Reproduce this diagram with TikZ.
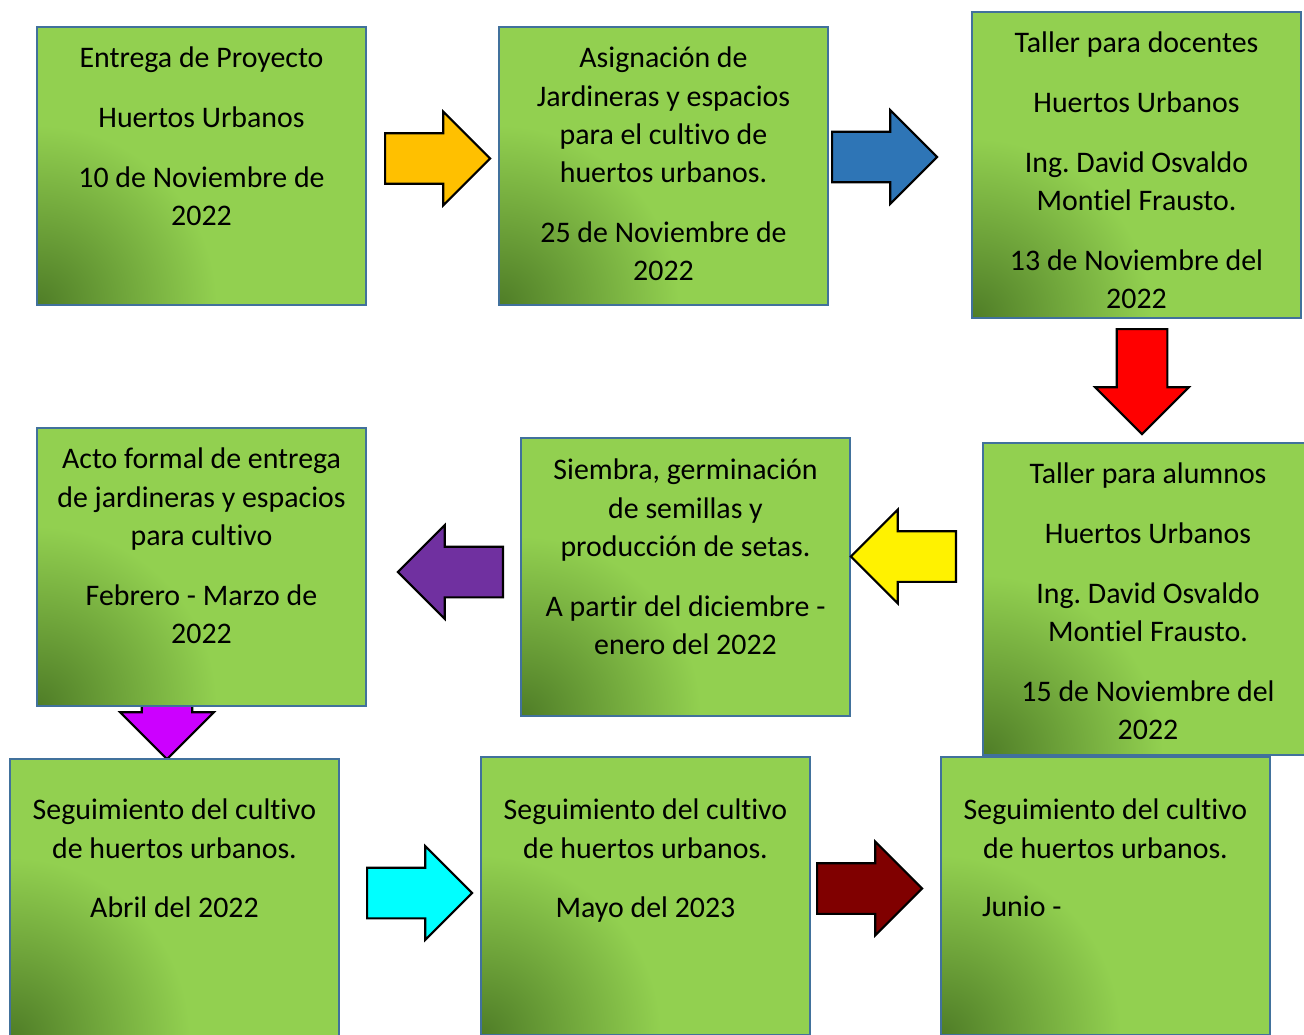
\documentclass[tikz,border=0pt]{standalone}
\usepackage{fontspec}
\setmainfont{Carlito}[Ligatures=NoCommon]
\usetikzlibrary{positioning,shapes.arrows}

\definecolor{leaf}{HTML}{92D050}
\definecolor{darkleaf}{HTML}{4F7D27}
\definecolor{boxblue}{HTML}{41719C}
\definecolor{amber}{HTML}{FFC000}
\definecolor{steel}{HTML}{2E75B6}
\definecolor{grape}{HTML}{7030A0}
\definecolor{orchid}{HTML}{CC00FF}
\definecolor{aqua}{HTML}{00FFFF}
\definecolor{maroon}{HTML}{800000}

\begin{document}
\begin{tikzpicture}[x=0.02cm,y=-0.02cm,
  stage/.style={fill=leaf,inner sep=0pt,minimum width=6.58cm,minimum height=5.56cm},
  stagetext/.style={align=center,inner sep=0pt,font=\fontsize{17}{21.8}\selectfont\frenchspacing},
  blockarrow/.style={single arrow,draw=black,line width=1.2pt,inner sep=0pt,anchor=tail,
    text height=0.97cm,text depth=0pt,minimum height=2.1cm,
    single arrow head extend=0.43cm,single arrow tip angle=90}]
\useasboundingbox (0,0) rectangle (1304,1034);

% la flecha morada queda bajo la tarjeta f
\node[blockarrow,fill=orchid,rotate=270] (f-g) at (167,653) {};

% tarjetas
\node[stage] (a) at (201.5,166) {};
\node[stage] (b) at (663.5,166) {};
\node[stage,minimum height=6.12cm] (c) at (1136.5,165) {};
\node[stage,minimum width=6.6cm,minimum height=6.24cm] (d) at (1148,599) {};
\node[stage] (e) at (685.5,577) {};
\node[stage] (f) at (201.5,567) {};
\node[stage] (g) at (174.5,898) {};
\node[stage] (h) at (645.5,896) {};
\node[stage] (i) at (1105.5,896) {};

% sombra verde oscura en la esquina y borde azul
\foreach \card in {a,b,c,d,e,f,g,h,i}{
  \begin{scope}
    \clip (\card.south west) rectangle (\card.north east);
    \shade[inner color=darkleaf,outer color=leaf] (\card.south west) circle[radius=3.6cm];
  \end{scope}
  \draw[boxblue,line width=1.2pt] (\card.south west) rectangle (\card.north east);
}

% textos
\node[stagetext,below=0.4cm of a.north] (a-text) {Entrega de Proyecto\\[0.43cm]
  Huertos Urbanos\\[0.43cm] 10 de Noviembre de\\ 2022};
\node[stagetext,below=0.4cm of b.north] (b-text) {Asignación de\\ Jardineras y espacios\\
  para el cultivo de\\ huertos urbanos.\\[0.43cm] 25 de Noviembre de\\ 2022};
\node[stagetext,below=0.4cm of c.north] (c-text) {Taller para docentes\\[0.43cm]
  Huertos Urbanos\\[0.43cm] Ing. David Osvaldo\\ Montiel Frausto.\\[0.43cm]
  13 de Noviembre del\\ 2022};
\node[stagetext,below=0.4cm of d.north] (d-text) {Taller para alumnos\\[0.43cm]
  Huertos Urbanos\\[0.43cm] Ing. David Osvaldo\\ Montiel Frausto.\\[0.43cm]
  15 de Noviembre del\\ 2022};
\node[stagetext,below=0.42cm of e.north] (e-text) {Siembra, germinación\\ de semillas y\\
  producción de setas.\\[0.43cm] A partir del diciembre -\\ enero del 2022};
\node[stagetext,below=0.4cm of f.north] (f-text) {Acto formal de entrega\\
  de jardineras y espacios\\ para cultivo\\[0.43cm] Febrero - Marzo de\\ 2022};
\node[stagetext,below=0.8cm of g.north] (g-text) {Seguimiento del cultivo\\
  de huertos urbanos.\\[0.43cm] Abril del 2022};
\node[stagetext,below=0.84cm of h.north] (h-text) {Seguimiento del cultivo\\
  de huertos urbanos.\\[0.43cm] Mayo del 2023};
\node[stagetext,below=0.84cm of i.north] (i-text) {Seguimiento del cultivo\\
  de huertos urbanos.};
\node[stagetext,anchor=base west] (i-date) at ([xshift=0.82cm,yshift=-3.2cm]i.north west) {Junio -};

% flechas
\node[blockarrow,fill=amber] (a-b) at (384,158.5) {};
\node[blockarrow,fill=steel] (b-c) at (831,157) {};
\node[blockarrow,fill=red,rotate=270] (c-d) at (1142,328) {};
\node[blockarrow,fill=yellow,rotate=180] (d-e) at (957,556.5) {};
\node[blockarrow,fill=grape,rotate=180] (e-f) at (504,572) {};
\node[blockarrow,fill=aqua] (g-h) at (366,893) {};
\node[blockarrow,fill=maroon] (h-i) at (816,888.5) {};
\end{tikzpicture}
\end{document}
